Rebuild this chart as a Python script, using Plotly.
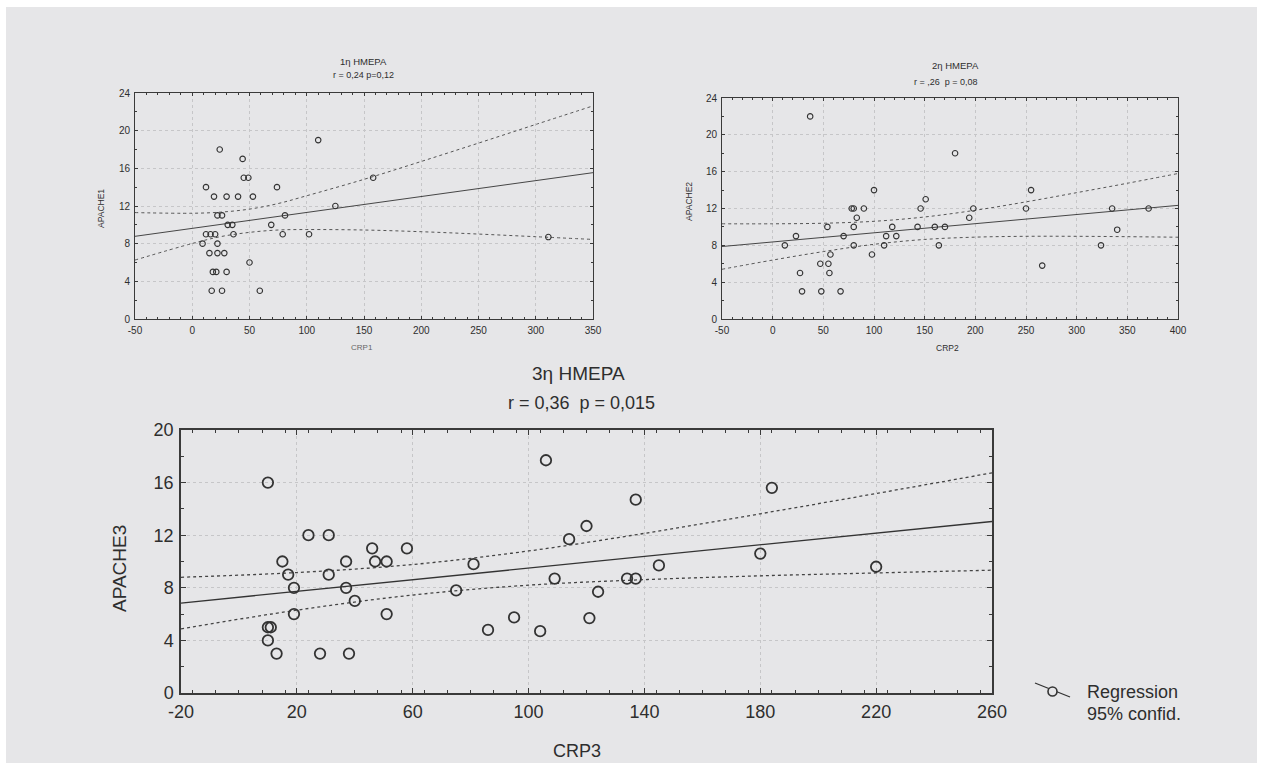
import plotly.graph_objects as go

# ---------------- data ----------------
crp1 = [24, 110, 44, 45, 49, 158, 12, 74, 19, 30, 40, 53, 125, 22, 26, 81, 31, 35, 69, 12,
        16, 20, 36, 79, 102, 311, 9, 22, 15, 22, 28, 50, 18, 21, 30, 17, 26, 59]
apache1 = [18, 19, 17, 15, 15, 15, 14, 14, 13, 13, 13, 13, 12, 11, 11, 11, 10, 10, 10, 9,
           9, 9, 9, 9, 9, 8.7, 8, 8, 7, 7, 7, 6, 5, 5, 5, 3, 3, 3]

crp2 = [37, 180, 100, 255, 151, 78, 80, 90, 146, 198, 250, 335, 371, 83, 194, 54, 80, 118, 143, 160,
        170, 340, 23, 70, 112, 122, 12, 80, 110, 164, 324, 98, 57, 47, 55, 266, 27, 56, 29, 48, 67]
apache2 = [22, 18, 14, 14, 13, 12, 12, 12, 12, 12, 12, 12, 12, 11, 11, 10, 10, 10, 10, 10,
           10, 9.7, 9, 9, 9, 9, 8, 8, 8, 8, 8, 7, 7, 6, 6, 5.8, 5, 5, 3, 3, 3]

crp3 = [10, 106, 24, 31, 120, 114, 46, 58, 15, 37, 47, 51, 81, 17, 31, 109, 19, 37, 75, 40,
        19, 51, 95, 121, 10, 11, 86, 104, 10, 13, 28, 38, 137, 184, 180, 145, 220, 134, 137, 124]
apache3 = [16, 17.7, 12, 12, 12.7, 11.7, 11, 11, 10, 10, 10, 10, 9.8, 9, 9, 8.7, 8, 8, 7.8, 7,
           6, 6, 5.75, 5.7, 5, 5, 4.8, 4.7, 4, 3, 3, 3, 14.7, 15.6, 10.6, 9.7, 9.6, 8.7, 8.7, 7.7]

# regression lines (end points)
reg1_x = [-50, 350]
reg1_y = [8.78, 15.54]
reg2_x = [-50, 400]
reg2_y = [7.87, 12.34]
reg3_x = [-20, 260]
reg3_y = [6.84, 13.04]

# 95% confidence bands
ci1_x = [-50, 0, 25, 50, 75, 100, 150, 200, 250, 300, 350]
ci1_up = [11.30, 11.23, 11.35, 11.67, 12.26, 13.09, 14.83, 16.73, 18.68, 20.66, 22.63]
ci1_lo = [6.26, 8.02, 8.75, 9.20, 9.45, 9.50, 9.45, 9.27, 9.02, 8.74, 8.45]

ci2_x = [-50, 0, 50, 100, 150, 200, 250, 300, 350, 400]
ci2_up = [10.34, 10.34, 10.40, 10.61, 11.08, 11.81, 12.72, 13.72, 14.74, 15.80]
ci2_lo = [5.40, 6.40, 7.32, 8.11, 8.64, 8.89, 8.98, 8.98, 8.94, 8.88]

ci3_x = [-20, 20, 60, 100, 140, 180, 220, 260]
ci3_up = [8.80, 9.16, 9.77, 10.80, 12.14, 13.63, 15.17, 16.74]
ci3_lo = [4.88, 6.30, 7.45, 8.20, 8.62, 8.91, 9.13, 9.34]

x_ticks1 = [-50, 0, 50, 100, 150, 200, 250, 300, 350]
x_ticks2 = [-50, 0, 50, 100, 150, 200, 250, 300, 350, 400]
x_ticks3 = [-20, 20, 60, 100, 140, 180, 220, 260]
y_ticks12 = [0, 4, 8, 12, 16, 20, 24]
y_ticks3 = [0, 4, 8, 12, 16, 20]

# ---------------- styling ----------------
W, H = 1263, 769
BG = "#e6e6e8"
INK = "#2e2e2e"
FONT = "Liberation Sans, Arial, sans-serif"


def px(x):
    return x / W


def py(y):
    return 1 - y / H


fig = go.Figure()


def add_panel(xs, ys, rx, ry, cx, cu, cl, xa, ya, msize, mlw, lw):
    fig.add_trace(go.Scatter(x=cx, y=cu, mode="lines", line=dict(color="#444", width=lw, dash="3px,3px", shape="spline"),
                             xaxis=xa, yaxis=ya, hoverinfo="skip"))
    fig.add_trace(go.Scatter(x=cx, y=cl, mode="lines", line=dict(color="#444", width=lw, dash="3px,3px", shape="spline"),
                             xaxis=xa, yaxis=ya, hoverinfo="skip"))
    fig.add_trace(go.Scatter(x=rx, y=ry, mode="lines", line=dict(color="#333", width=lw),
                             xaxis=xa, yaxis=ya, hoverinfo="skip"))
    fig.add_trace(go.Scatter(x=xs, y=ys, mode="markers",
                             marker=dict(symbol="circle-open", size=msize, color="#333", line=dict(width=mlw)),
                             xaxis=xa, yaxis=ya))


add_panel(crp1, apache1, reg1_x, reg1_y, ci1_x, ci1_up, ci1_lo, "x", "y", 5.5, 1.1, 0.9)
add_panel(crp2, apache2, reg2_x, reg2_y, ci2_x, ci2_up, ci2_lo, "x2", "y2", 5.5, 1.1, 0.9)
add_panel(crp3, apache3, reg3_x, reg3_y, ci3_x, ci3_up, ci3_lo, "x3", "y3", 10.5, 1.8, 1.3)


def axis(domain, rng, tickvals, minor_dtick, fs, lw, anchor, tlen, mlen):
    return dict(domain=domain, range=rng, tickmode="array", tickvals=tickvals,
                ticktext=[str(v) for v in tickvals],
                showline=True, linecolor="#3a3a3a", linewidth=lw, mirror="allticks",
                ticks="inside", ticklen=tlen, tickcolor="#3a3a3a", tickwidth=1,
                tickfont=dict(size=fs, family=FONT, color=INK),
                showgrid=True, gridcolor="#c6c6c8", griddash="dot", gridwidth=1,
                zeroline=False, anchor=anchor, ticklabelstandoff=2, automargin=False,
                minor=dict(dtick=minor_dtick, ticks="inside", ticklen=mlen, tickcolor="#3a3a3a", showgrid=False))


fig.update_layout(
    width=W, height=H, margin=dict(l=0, r=0, t=0, b=0, pad=0, autoexpand=False), autosize=False,
    paper_bgcolor="white", plot_bgcolor="rgba(0,0,0,0)", showlegend=False,
    font=dict(family=FONT, color=INK),
    xaxis=axis([px(135), px(593)], [-50, 350], x_ticks1, 10, 10, 1, "y", 3, 2),
    yaxis=axis([py(319), py(93)], [0, 24], y_ticks12, 2, 10, 1, "x", 3, 2),
    xaxis2=axis([px(722), px(1178)], [-50, 400], x_ticks2, 10, 10, 1, "y2", 3, 2),
    yaxis2=axis([py(319), py(98)], [0, 24], y_ticks12, 2, 10, 1, "x2", 3, 2),
    xaxis3=axis([px(181), px(992)], [-20, 260], x_ticks3, 8, 18, 1.5, "y3", 5, 3),
    yaxis3=axis([py(693), py(430)], [0, 20], y_ticks3, 2, 18, 1.5, "x3", 5, 3),
)

# scanned-paper background
fig.add_shape(type="rect", xref="paper", yref="paper", x0=px(6), x1=px(1257), y0=py(763), y1=py(7),
              fillcolor=BG, line=dict(width=0), layer="below")

# legend symbol
fig.add_shape(type="line", xref="paper", yref="paper", x0=px(1035), y0=py(683), x1=px(1070), y1=py(697),
              line=dict(color="#333", width=1.3))
fig.add_shape(type="circle", xref="paper", yref="paper", x0=px(1048), x1=px(1057), y0=py(696), y1=py(687),
              fillcolor=BG, line=dict(color="#333", width=1.6))


def note(text, x, y, size, angle=0, anchor="center", color=INK):
    fig.add_annotation(text=text, x=px(x), y=py(y), xref="paper", yref="paper", showarrow=False,
                       xanchor=anchor, yanchor="middle", textangle=angle,
                       font=dict(size=size, family=FONT, color=color))


nb = "\u00a0"
note("1η HMEPA", 363, 62, 9.5)
note("r = 0,24 p=0,12", 363, 75, 9)
note("2η HMEPA", 955, 66, 9.5)
note("r = ,26" + nb * 2 + "p = 0,08", 946, 82, 9)
note("3η HMEPA", 578, 373, 19)
note("r = 0,36" + nb * 2 + "p = 0,015", 581, 403, 18)

note("APACHE1", 101, 208, 8.5, angle=-90)
note("APACHE2", 689, 202, 8.5, angle=-90)
note("APACHE3", 119, 569, 19, angle=-90)
note("CRP1", 362, 347, 8, color="#666")
note("CRP2", 947, 348, 8.5)
note("CRP3", 577, 751, 18)

note("Regression", 1085, 692, 18, anchor="left")
note("95% confid.", 1085, 714, 18, anchor="left")

fig.write_html("out.html")
